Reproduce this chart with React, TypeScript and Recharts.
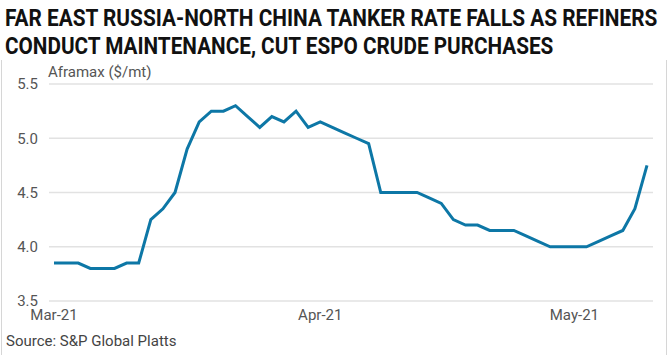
import React, { useLayoutEffect, useRef, useState } from 'react';
import { LineChart, Line, XAxis, YAxis, CartesianGrid } from 'recharts';

// Aframax rate, $/mt, one point per assessment day (Mar 1 - mid May 2021)
const rates = [
  3.85, 3.85, 3.85, 3.8, 3.8, 3.8, 3.85, 3.85, 4.25, 4.35,
  4.5, 4.9, 5.15, 5.25, 5.25, 5.3, 5.2, 5.1, 5.2, 5.15,
  5.25, 5.1, 5.15, 5.1, 5.05, 5.0, 4.95, 4.5, 4.5, 4.5,
  4.5, 4.45, 4.4, 4.25, 4.2, 4.2, 4.15, 4.15, 4.15, 4.1,
  4.05, 4.0, 4.0, 4.0, 4.0, 4.05, 4.1, 4.15, 4.35, 4.75,
];
const monthTickIdx = [0, 22, 43];
const monthTickLabels = ['Mar-21', 'Apr-21', 'May-21'];
const yTicks = [3.5, 4.0, 4.5, 5.0, 5.5];

const titleLines = [
  'FAR EAST RUSSIA-NORTH CHINA TANKER RATE FALLS AS REFINERS',
  'CONDUCT MAINTENANCE, CUT ESPO CRUDE PURCHASES',
];

const LINE_COLOR = '#0d77a6';
const TEXT_GREY = '#555';

const chartData = rates.map((rate, idx) => ({ idx, rate }));

// condensed-looking headline: squeeze a bold line to a target width
const TitleLine: React.FC<{ text: string; top: number; width: number }> = ({ text, top, width }) => {
  const ref = useRef<HTMLDivElement>(null);
  const [scale, setScale] = useState(0.77);
  useLayoutEffect(() => {
    if (ref.current) {
      const w = ref.current.scrollWidth;
      if (w > 0) setScale(width / w);
    }
  }, [text, width]);
  return (
    <div
      ref={ref}
      style={{
        position: 'absolute', left: 5, top, height: 28,
        fontFamily: 'Roboto', fontWeight: 700, fontSize: 24, lineHeight: '28px',
        color: '#111', whiteSpace: 'nowrap',
        transform: `scaleX(${scale})`, transformOrigin: 'left top',
      }}
    >
      {text}
    </div>
  );
};

const App: React.FC = () => {
  return (
    <div style={{ position: 'relative', width: 670, height: 355, background: '#fff', fontFamily: 'Roboto, sans-serif', overflow: 'hidden' }}>
      <style>{'body { margin: 0; }'}</style>

      <TitleLine text={titleLines[0]} top={4} width={652} />
      <TitleLine text={titleLines[1]} top={32} width={548} />

      {/* frame sides */}
      <div style={{ position: 'absolute', left: 1, top: 60, width: 1, height: 295, background: '#d6d6d6' }} />
      <div style={{ position: 'absolute', left: 666, top: 60, width: 1, height: 295, background: '#d6d6d6' }} />

      <div style={{ position: 'absolute', left: 48, top: 62, fontSize: 15, color: TEXT_GREY, lineHeight: '20px' }}>
        Aframax ($/mt)
      </div>

      <div style={{ position: 'absolute', left: 0, top: 60 }}>
        <LineChart width={670} height={265} data={chartData} margin={{ top: 24, right: 17, bottom: 0, left: 0 }}>
          <CartesianGrid vertical={false} stroke="#e2e2e2" strokeWidth={1.5} />
          <XAxis
            type="number"
            dataKey="idx"
            domain={[0, rates.length - 1]}
            ticks={monthTickIdx}
            interval={0}
            tickFormatter={(v: number) => monthTickLabels[monthTickIdx.indexOf(v)]}
            padding={{ left: 5, right: 6 }}
            axisLine={false}
            tickLine={false}
            height={24}
            tick={{ fill: TEXT_GREY, fontSize: 15, fontFamily: 'Roboto' }}
          />
          <YAxis
            type="number"
            domain={[3.5, 5.5]}
            ticks={yTicks}
            interval={0}
            tickFormatter={(v: number) => v.toFixed(1)}
            axisLine={false}
            tickLine={false}
            tickMargin={5}
            width={49}
            tick={{ fill: TEXT_GREY, fontSize: 15, fontFamily: 'Roboto' }}
          />
          <Line
            type="linear"
            dataKey="rate"
            stroke={LINE_COLOR}
            strokeWidth={3}
            dot={false}
            isAnimationActive={false}
          />
        </LineChart>
      </div>

      <div style={{ position: 'absolute', left: 6, top: 331, fontSize: 15, color: '#444', lineHeight: '20px' }}>
        Source: S&amp;P Global Platts
      </div>
    </div>
  );
};

export default App;
